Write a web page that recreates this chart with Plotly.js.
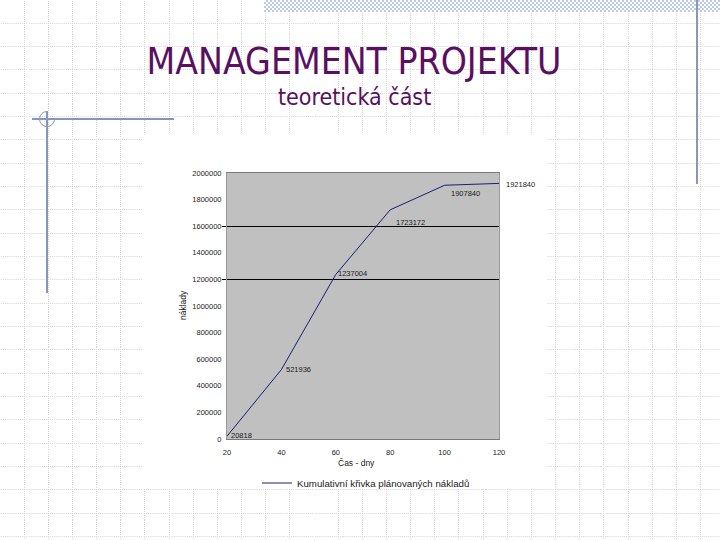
<!DOCTYPE html>
<html>
<head>
<meta charset="utf-8">
<script src="https://cdn.plot.ly/plotly-3.0.1.min.js"></script>
<style>
  html, body { margin:0; padding:0; }
  body {
    width:720px; height:540px; position:relative; overflow:hidden; background:#fff;
    background-image:url("data:image/svg+xml,%3Csvg xmlns='http://www.w3.org/2000/svg' width='24' height='24'%3E%3Cpath d='M0 0.5H24M0.5 0V24' stroke='%23d6d6d6' stroke-width='1' stroke-dasharray='1 1' fill='none'/%3E%3C/svg%3E");
    background-size:24.17px 23.33px;
    background-position:-0.5px -0.5px;
  }
  .deco { position:absolute; }
  #band { left:264px; top:0; width:456px; height:12px;
    background-color:#fff;
    background-image:repeating-conic-gradient(#bccbe8 0% 25%, #ffffff 0% 50%);
    background-size:4px 4px; }
  #vright { left:696px; top:0; width:2px; height:184px; background:#8a97b6; }
  #hleft { left:32px; top:118px; width:142px; height:2px; background:#8595bd; }
  #vleft { left:46px; top:111px; width:2px; height:182px; background:#8595bd; }
  #circ { left:39px; top:111px; width:16px; height:16px; border:1px solid #8f9bb8; border-radius:50%;
    border-top-color:transparent; transform:rotate(45deg); box-sizing:border-box; }
  #chartbg { left:143px; top:133px; width:403px; height:356px; background:#fff; }
  #chart { position:absolute; left:0; top:0; width:720px; height:540px; }
</style>
</head>
<body>
<div class="deco" id="band"></div>
<div class="deco" id="vright"></div>
<div class="deco" id="hleft"></div>
<div class="deco" id="vleft"></div>
<div class="deco" id="circ"></div>
<div class="deco" id="chartbg"></div>
<div id="chart"></div>
<script>
// ---- data ----
const days = [20, 40, 60, 80, 100, 120];
const costs = [20818, 521936, 1237004, 1723172, 1907840, 1921840];
const xTickVals = [20, 40, 60, 80, 100, 120];
const yTickVals = [0, 200000, 400000, 600000, 800000, 1000000, 1200000, 1400000, 1600000, 1800000, 2000000];
const gridValues = [1200000, 1600000];
const seriesName = 'Kumulativní křivka plánovaných nákladů';
const xTitle = 'Čas - dny';
const yTitle = 'náklady';
const mainTitle = 'MANAGEMENT PROJEKTU';
const subTitle = 'teoretická část';

// label offsets (pixels) for the data labels
const labelDX = [2, 3, 0, 4, 4, 5];
const labelDY = [1, 0, 1, -13, -8, -1];

const W = 720, H = 540;
const L = 227, R = 499, T = 173, B = 439;
const px = x => (x - L) / (R - L);
const py = y => (B - y) / (B - T);

const sans = 'Liberation Sans, Arial, sans-serif';
const small = { family: sans, size: 7.5, color: '#1a1a1a' };
const titleFont = { family: 'DejaVu Sans Condensed, DejaVu Sans, sans-serif', color: '#5a1060' };

const traces = [
  {
    x: days, y: costs, type: 'scatter', mode: 'lines',
    name: seriesName,
    line: { color: '#1c1c78', width: 1 },
    hoverinfo: 'x+y'
  },
  { x: [], y: [], yaxis: 'y2', showlegend: false, hoverinfo: 'skip', type: 'scatter', mode: 'lines' }
];

const dataLabels = days.map((d, i) => ({
  x: d, y: costs[i], xref: 'x', yref: 'y',
  text: String(costs[i]), showarrow: false,
  xanchor: 'left', yanchor: 'middle',
  xshift: labelDX[i], yshift: labelDY[i],
  font: { family: sans, size: 7.5, color: '#1a1a1a' }
}));

const layout = {
  width: W, height: H,
  margin: { l: L, r: W - R, t: T, b: H - B, pad: 0 },
  paper_bgcolor: 'rgba(0,0,0,0)',
  plot_bgcolor: '#c0c0c0',
  showlegend: true,
  title: {
    text: mainTitle,
    font: Object.assign({ size: 37 }, titleFont),
    xref: 'container', yref: 'container',
    x: 354 / W, xanchor: 'center',
    y: 1 - 61 / H, yanchor: 'middle'
  },
  xaxis: {
    range: [20, 120], tickvals: xTickVals, ticktext: xTickVals.map(String),
    showgrid: false, zeroline: false,
    showline: true, linecolor: '#7a7a7a', linewidth: 1, mirror: true,
    ticks: '', tickfont: small, ticklabelstandoff: 6, fixedrange: true
  },
  yaxis: {
    range: [0, 2000000], tickvals: yTickVals, ticktext: yTickVals.map(String),
    showgrid: false, zeroline: false,
    showline: true, linecolor: '#9a9a9a', linewidth: 1, mirror: true,
    ticks: '', tickfont: small, ticklabelstandoff: 3, fixedrange: true
  },
  yaxis2: {
    overlaying: 'y', matches: 'y', side: 'left',
    range: [0, 2000000], tickvals: gridValues,
    showticklabels: false, showgrid: true, gridcolor: '#000000', gridwidth: 1,
    ticks: 'outside', ticklen: 4, tickcolor: '#000000', tickwidth: 1,
    zeroline: false, showline: false, fixedrange: true
  },
  legend: {
    orientation: 'h', x: px(257), xanchor: 'left', y: py(483), yanchor: 'middle',
    bgcolor: 'rgba(0,0,0,0)', font: { family: sans, size: 9.7, color: '#1a1a1a' }
  },
  annotations: [
    { text: subTitle, xref: 'paper', yref: 'paper', x: px(354), y: py(97), xanchor: 'center', yanchor: 'middle',
      showarrow: false, font: Object.assign({ size: 23 }, titleFont) },
    { text: xTitle, xref: 'paper', yref: 'paper', x: px(356), y: py(463), xanchor: 'center', yanchor: 'middle',
      showarrow: false, font: { family: sans, size: 8.5, color: '#1a1a1a' } },
    { text: yTitle, xref: 'paper', yref: 'paper', x: px(183), y: py(305), xanchor: 'center', yanchor: 'middle',
      textangle: -90, showarrow: false, font: { family: sans, size: 8.5, color: '#1a1a1a' } }
  ].concat(dataLabels)
};

Plotly.newPlot('chart', traces, layout, { displayModeBar: false, staticPlot: true });
</script>
</body>
</html>
